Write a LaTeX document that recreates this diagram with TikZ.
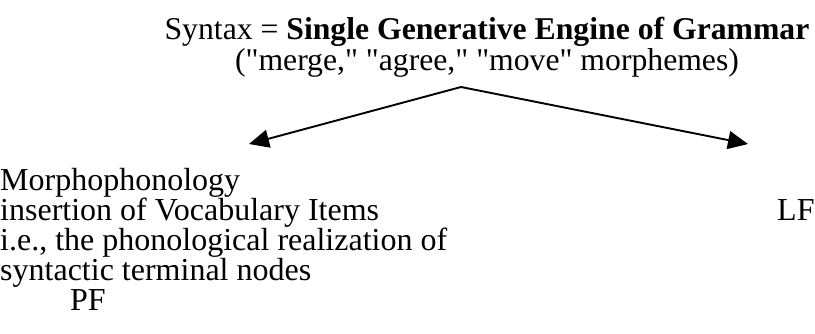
\documentclass[tikz,border=0pt]{standalone}
\usepackage{fontspec}
\setmainfont{Liberation Serif}
\usetikzlibrary{arrows.meta}
\newcommand{\qq}{\textquotedbl}
\begin{document}
\begin{tikzpicture}[x=1pt,y=-1pt,
  ttl/.style={inner sep=0pt,font=\fontsize{31.7}{31.7}\selectfont},
  txt/.style={inner sep=0pt,font=\fontsize{32}{32}\selectfont},
  conn/.style={line width=1.9pt,-{Triangle[length=20pt,width=18pt]}}]
\useasboundingbox (0,0) rectangle (815,333);
\node[ttl,anchor=base] (t1) at (487,39) {Syntax = \textbf{Single Generative Engine of Grammar}};
\node[ttl,anchor=base] (t2) at (487,70) {(\qq merge,\qq{} \qq agree,\qq{} \qq move\qq{} morphemes)};
\coordinate (apex) at (461,87);
\node[txt,anchor=base west] (l1) at (0,190) {Morphophonology};
\node[txt,anchor=base west] (l2) at (0,220) {insertion of Vocabulary Items};
\node[txt,anchor=base west] (l3) at (0,250) {i.e., the phonological realization of};
\node[txt,anchor=base west] (l4) at (0,280) {syntactic terminal nodes};
\node[txt,anchor=base west] (pf) at (70,310) {PF};
\node[txt,anchor=base west] (lf) at (777,220) {LF};
\coordinate (lt) at (249,144);
\coordinate (rt) at (748,144);
\draw[conn] (apex) -- (lt);
\draw[conn] (apex) -- (rt);
\end{tikzpicture}
\end{document}
